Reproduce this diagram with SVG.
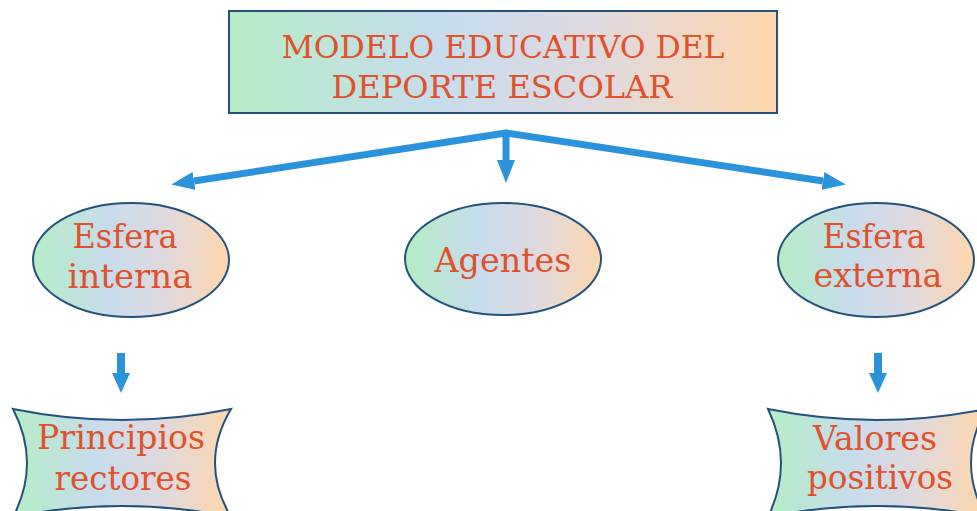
<svg xmlns="http://www.w3.org/2000/svg" width="977" height="511" viewBox="0 0 977 511">
  <defs>
    <linearGradient id="grad" x1="0" y1="0" x2="1" y2="0">
      <stop offset="0" stop-color="#b6ecc6"/>
      <stop offset="0.38" stop-color="#c6dcec"/>
      <stop offset="0.65" stop-color="#ddd9e1"/>
      <stop offset="1" stop-color="#fed7ad"/>
    </linearGradient>
    <marker id="head" markerUnits="userSpaceOnUse" markerWidth="23" markerHeight="18" refX="0" refY="9" orient="auto">
      <path d="M0,0 L23,9 L0,18 Z" fill="#2b93dc"/>
    </marker>
    <marker id="headS" markerUnits="userSpaceOnUse" markerWidth="20" markerHeight="18" refX="0" refY="9" orient="auto">
      <path d="M0,0 L20,9 L0,18 Z" fill="#2b93dc"/>
    </marker>
  </defs>
  <style>
    .shape { fill: url(#grad); stroke: #23527c; stroke-width: 2; }
    .lbl { font-family: "DejaVu Serif", "Liberation Serif", serif; fill: #e0522b; text-anchor: middle; }
    .t { font-size: 32px; }
    .n { font-size: 33px; }
    .conn { stroke: #2b93dc; fill: none; stroke-width: 7; }
    .small { stroke: #2b93dc; fill: none; stroke-width: 8; }
  </style>
  <rect width="977" height="511" fill="#ffffff"/>

  <g id="connectors">
    <path class="conn" d="M506,133 L194,181" marker-end="url(#head)"/>
    <path class="conn" d="M506,133 L823,181" marker-end="url(#head)"/>
    <path class="conn" d="M506,130 L506,160" marker-end="url(#head)"/>
    <path class="conn" d="M505,133 L507,133"/>
    <path class="small" d="M121,353 L121,373" marker-end="url(#headS)"/>
    <path class="small" d="M878,353 L878,373" marker-end="url(#headS)"/>
  </g>

  <g id="title">
    <rect class="shape" x="229" y="11" width="548" height="102"/>
    <text class="lbl t" x="503" y="58" textLength="443" lengthAdjust="spacingAndGlyphs">MODELO EDUCATIVO DEL</text>
    <text class="lbl t" x="502" y="98" textLength="341" lengthAdjust="spacingAndGlyphs">DEPORTE ESCOLAR</text>
  </g>

  <g id="esfera-interna">
    <ellipse class="shape" cx="131" cy="260" rx="98" ry="57"/>
    <text class="lbl n" x="125" y="248" textLength="105" lengthAdjust="spacingAndGlyphs">Esfera</text>
    <text class="lbl n" x="130" y="288" textLength="125" lengthAdjust="spacingAndGlyphs">interna</text>
  </g>

  <g id="agentes">
    <ellipse class="shape" cx="503" cy="259" rx="98" ry="56"/>
    <text class="lbl n" x="503" y="272" textLength="137" lengthAdjust="spacingAndGlyphs">Agentes</text>
  </g>

  <g id="esfera-externa">
    <ellipse class="shape" cx="876" cy="260" rx="98" ry="57"/>
    <text class="lbl n" x="874" y="248" textLength="103" lengthAdjust="spacingAndGlyphs">Esfera</text>
    <text class="lbl n" x="878" y="287" textLength="129" lengthAdjust="spacingAndGlyphs">externa</text>
  </g>

  <g id="principios-rectores">
    <path class="shape" d="M13,409 Q122,431 231,409 Q199,463 231,517 Q122,495 13,517 Q41,463 13,409 Z"/>
    <text class="lbl n" x="121" y="449" textLength="168" lengthAdjust="spacingAndGlyphs">Principios</text>
    <text class="lbl n" x="123" y="490" textLength="137" lengthAdjust="spacingAndGlyphs">rectores</text>
  </g>

  <g id="valores-positivos">
    <path class="shape" d="M768,409 Q877,431 986,409 Q956,463 986,517 Q877,495 768,517 Q794,463 768,409 Z"/>
    <text class="lbl n" x="875" y="450" textLength="124" lengthAdjust="spacingAndGlyphs">Valores</text>
    <text class="lbl n" x="880" y="489" textLength="146" lengthAdjust="spacingAndGlyphs">positivos</text>
  </g>
</svg>
